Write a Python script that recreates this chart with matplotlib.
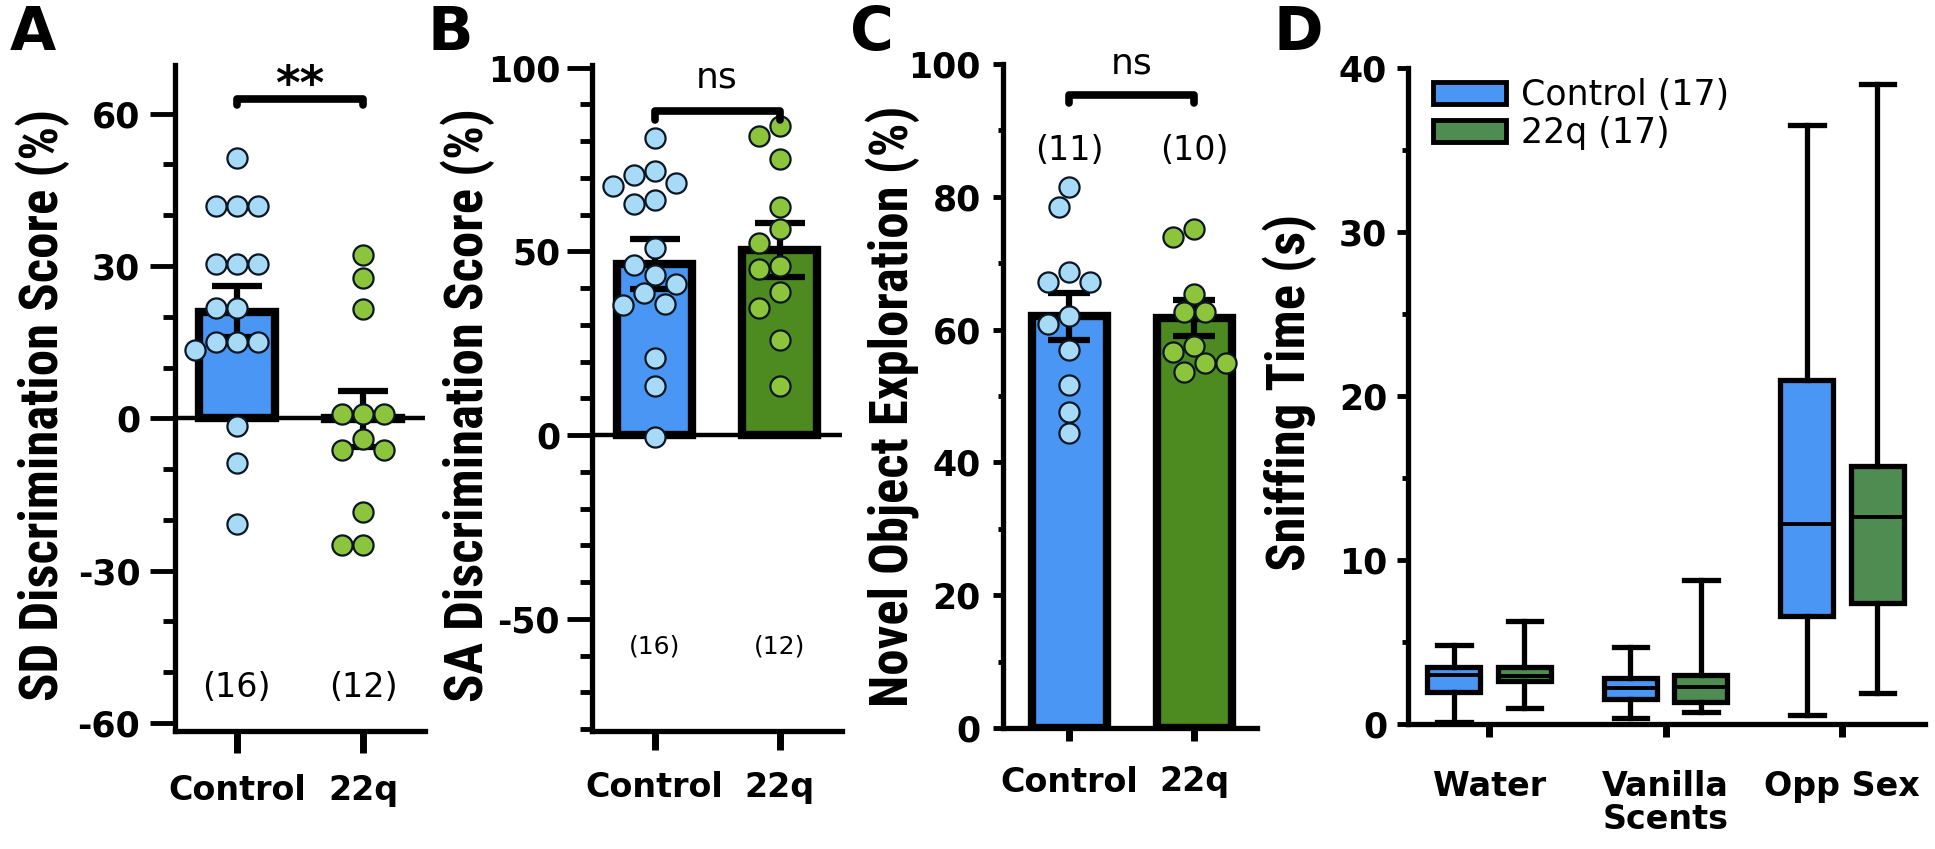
import numpy as np
import matplotlib
matplotlib.use('Agg')
import matplotlib.pyplot as plt
from matplotlib import font_manager
from matplotlib.patches import Patch
from matplotlib.ticker import MultipleLocator

plt.rcParams['font.family'] = ['DejaVu Sans']
plt.rcParams['font.weight'] = 'bold'
plt.rcParams['axes.unicode_minus'] = False

groups = ['Control', '22q']

# A: SD discrimination score (%)
sd_ctrl = [51.3, 41.8, 41.8, 41.8, 30.4, 30.4, 30.4, 21.7, 21.7, 15.1, 15.1, 15.1, 13.4, -1.6, -8.8, -20.8]
sd_22q = [32.1, 27.6, 21.5, 0.9, 0.9, 0.9, -4.0, -6.3, -6.3, -18.4, -25.0, -25.0]
sd_mean = [21.0, -0.1]
sd_sem = [5.0, 5.5]
sd_n = ['(16)', '(12)']

# B: SA discrimination score (%)
sa_ctrl = [80.8, 71.8, 70.9, 68.6, 67.9, 64.1, 63.0, 51.0, 46.4, 43.7, 41.0, 38.7, 35.8, 35.3, 21.1, 13.4, -0.5]
sa_22q = [84.2, 81.3, 75.1, 62.0, 56.2, 52.4, 46.0, 45.1, 39.0, 34.6, 26.0, 13.5]
sa_mean = [46.5, 50.3]
sa_sem = [6.8, 7.4]
sa_n = ['(16)', '(12)']

# C: novel object exploration (%)
nor_ctrl = [81.5, 78.5, 68.6, 67.2, 67.2, 62.0, 60.8, 56.9, 51.7, 47.6, 44.5]
nor_22q = [75.2, 73.9, 65.3, 62.6, 62.6, 57.6, 56.6, 54.9, 54.9, 53.6]
nor_mean = [62.0, 61.7]
nor_sem = [3.5, 2.7]
nor_n = ['(11)', '(10)']

# D: sniffing time (s), box stats: low whisker, q1, median, q3, high whisker
scents = ['Water', 'Vanilla\nScents', 'Opp Sex']
sniff_ctrl = [[0.14, 1.95, 3.0, 3.45, 4.8],
              [0.35, 1.5, 2.2, 2.8, 4.7],
              [0.57, 6.6, 12.2, 21.0, 36.5]]
sniff_22q = [[1.0, 2.6, 2.95, 3.5, 6.3],
             [0.75, 1.32, 2.24, 3.0, 8.8],
             [1.9, 7.35, 12.6, 15.75, 39.0]]
legend_labels = ['Control (17)', '22q (17)']

blue = '#4A96F4'
green_bar = '#4D8A1F'
green_box = '#4F8C52'
dot_blue = '#A6DAF6'
dot_green = '#8CC43C'
dot_edge = '#0B1622'

W, H = 1935, 849
fig = plt.figure(figsize=(W / 100, H / 100), dpi=100)

# condensed bold face for the y labels, sized so the A label is ~600 px long
avail = {f.name for f in font_manager.fontManager.ttflist}
ylab_family = 'DejaVu Sans'
for cand in ['Liberation Sans Narrow', 'Roboto Condensed', 'Noto Sans Condensed',
             'Open Sans Condensed', 'DejaVu Sans Condensed']:
    if cand in avail:
        ylab_family = cand
        break
probe = fig.text(0, 0, 'SD Discrimination Score (%)', family=ylab_family, weight='bold',
                 size=30, stretch='condensed')
rend = fig.canvas.get_renderer()
probe_w = probe.get_window_extent(rend).width
probe.remove()
ylab_font = dict(family=ylab_family, weight='bold', stretch='condensed',
                 size=min(38, 30 * 600 / probe_w))


def add_ax(x0, x1, y0, y1):
    return fig.add_axes([x0 / W, 1 - y1 / H, (x1 - x0) / W, (y1 - y0) / H])


def style(ax, major_len, minor_len, xpad, ypad, xtick_len):
    for s in ['top', 'right']:
        ax.spines[s].set_visible(False)
    for s in ['left', 'bottom']:
        ax.spines[s].set_linewidth(3.8)
    ax.tick_params(axis='y', which='major', length=major_len, width=3.5, labelsize=25, pad=ypad)
    ax.tick_params(axis='y', which='minor', length=minor_len, width=3.5)
    ax.tick_params(axis='x', length=xtick_len, width=5, labelsize=24, pad=xpad)


def swarm(ax, xc, vals, diam=21):
    # GraphPad-like side-by-side dots
    tr = ax.transData.transform
    ux = tr((1, 0))[0] - tr((0, 0))[0]
    placed, xs = [], []
    for v in vals:
        py = tr((0, v))[1]
        k = 0
        found = None
        while found is None:
            for c in ([0] if k == 0 else [-k, k]):
                px = c * diam / 2
                if all((px - qx) ** 2 + (py - qy) ** 2 >= (0.97 * diam) ** 2 for qx, qy in placed):
                    found = px
                    break
            k += 1
        placed.append((found, py))
        xs.append(xc + found / ux)
    return xs


def bracket(ax, x0, x1, y, leg):
    ax.plot([x0, x0, x1, x1], [y - leg, y, y, y - leg], color='black', lw=5.5,
            solid_capstyle='round', solid_joinstyle='round', clip_on=False, zorder=5)


def bar_panel(ax, ctrl, q22, mean, sem, capsize):
    x = np.arange(len(groups))
    ax.bar(x, mean, width=0.6, color=[blue, green_bar], edgecolor='black', linewidth=6, zorder=2)
    ax.errorbar(x, mean, yerr=sem, fmt='none', ecolor='black', elinewidth=4.5,
                capsize=capsize, capthick=4.5, zorder=3)
    for xc, vals, col in [(0, ctrl, dot_blue), (1, q22, dot_green)]:
        xs = swarm(ax, xc, vals)
        ax.plot(xs, vals, 'o', ms=14.5, mfc=col, mec=dot_edge, mew=1.6, zorder=4, clip_on=False)
    ax.set_xticks(x)
    ax.set_xticklabels(groups)


# ---- A ----
axA = add_ax(175, 425, 65, 731)
axA.set_xlim(-0.49, 1.49)
axA.set_ylim(-61.6, 69.6)
style(axA, 18, 9, 15, 7, 16)
axA.set_yticks([-60, -30, 0, 30, 60])
axA.yaxis.set_minor_locator(MultipleLocator(10))
axA.axhline(0, color='black', lw=3.2, zorder=3)
bar_panel(axA, sd_ctrl, sd_22q, sd_mean, sd_sem, 18)
bracket(axA, 0, 1, 62.9, 1.2)
axA.text(0.5, 62.9, '**', ha='center', va='baseline', fontsize=34)
for i, t in enumerate(sd_n):
    axA.text(i, -53, t, ha='center', va='center', fontsize=24, fontweight='normal')
axA.set_ylabel('SD Discrimination Score (%)', **ylab_font)
axA.yaxis.set_label_coords(-0.42, 0.49)

# ---- B ----
axB = add_ax(592, 842, 65, 731)
axB.set_xlim(-0.5, 1.5)
axB.set_ylim(-80.5, 100.7)
style(axB, 18, 9, 15, 5, 14)
axB.set_yticks([-50, 0, 50, 100])
axB.yaxis.set_minor_locator(MultipleLocator(10))
axB.axhline(0, color='black', lw=3.2, zorder=3)
bar_panel(axB, sa_ctrl, sa_22q, sa_mean, sa_sem, 18)
bracket(axB, 0, 1, 88.2, 2.5)
axB.text(0.5, 94.5, 'ns', ha='center', va='baseline', fontsize=26, fontweight='normal')
for i, t in enumerate(sa_n):
    axB.text(i, -57.5, t, ha='center', va='center', fontsize=18, fontweight='normal')
axB.set_ylabel('SA Discrimination Score (%)', **ylab_font)
axB.yaxis.set_label_coords(-0.388, 0.49)

# ---- C ----
axC = add_ax(1003, 1257, 64, 728)
axC.set_xlim(-0.53, 1.5)
axC.set_ylim(0, 100)
style(axC, 7, 3.6, 18, 9, 9)
axC.set_yticks([0, 20, 40, 60, 80, 100])
axC.yaxis.set_minor_locator(MultipleLocator(10))
bar_panel(axC, nor_ctrl, nor_22q, nor_mean, nor_sem, 15)
bracket(axC, 0, 1, 95.3, 1.2)
axC.text(0.5, 98.6, 'ns', ha='center', va='baseline', fontsize=26, fontweight='normal')
for i, t in enumerate(nor_n):
    axC.text(i, 87.0, t, ha='center', va='center', fontsize=24, fontweight='normal')
axC.set_ylabel('Novel Object Exploration (%)', **ylab_font)
axC.yaxis.set_label_coords(-0.327, 0.485)

# ---- D ----
axD = add_ax(1408, 1925, 68, 724)
axD.set_xlim(-0.46, 2.47)
axD.set_ylim(0, 40)
style(axD, 8, 4, 24, 7, 9)
axD.set_yticks([0, 10, 20, 30, 40])
axD.yaxis.set_minor_locator(MultipleLocator(5))
cat = np.arange(len(scents))
stats = []
positions = []
colors = []
for j in range(len(scents)):
    for off, src, col in [(-0.2, sniff_ctrl, blue), (0.2, sniff_22q, green_box)]:
        lo, q1, med, q3, hi = src[j]
        stats.append(dict(whislo=lo, q1=q1, med=med, q3=q3, whishi=hi, fliers=[]))
        positions.append(cat[j] + off)
        colors.append(col)
bp = axD.bxp(stats, positions=positions, widths=0.3, capwidths=0.19, patch_artist=True,
             showfliers=False,
             boxprops=dict(linewidth=3.8, edgecolor='black'),
             whiskerprops=dict(linewidth=3.8, color='black'),
             capprops=dict(linewidth=3.8, color='black'),
             medianprops=dict(linewidth=2.8, color='black'))
for patch, col in zip(bp['boxes'], colors):
    patch.set_facecolor(col)
axD.set_xticks(cat)
axD.set_xticklabels(scents, linespacing=1.0)
axD.set_ylabel('Sniffing Time (s)', **ylab_font)
axD.yaxis.set_label_coords(-0.176, 0.506)
handles = [Patch(facecolor=blue, edgecolor='black', linewidth=3.5),
           Patch(facecolor=green_box, edgecolor='black', linewidth=3.5)]
axD.legend(handles, legend_labels, loc='upper left', bbox_to_anchor=(0.048, 0.985),
           frameon=False, borderaxespad=0, borderpad=0, handlelength=2.1, handleheight=0.6,
           handletextpad=0.45, labelspacing=0.12, prop=dict(size=25, weight='normal'))

# panel letters
for letter, x in [('A', 10), ('B', 427), ('C', 850), ('D', 1273)]:
    fig.text(x / W, 1 - 4 / H, letter, ha='left', va='top', fontsize=43, fontweight='bold')

fig.savefig('out.png', dpi=100)
